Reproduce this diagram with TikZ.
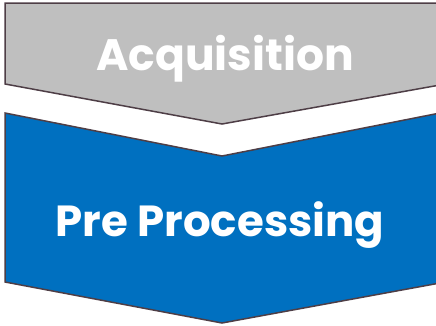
\documentclass[tikz,border=0pt]{standalone}
\usepackage{fontspec}
\setsansfont[Ligatures=NoCommon]{Poppins}
\definecolor{rim}{HTML}{4E3E46}
\definecolor{stepgray}{HTML}{BFBFBF}
\definecolor{stepblue}{HTML}{0070C0}

\begin{document}
\begin{tikzpicture}[x=1pt, y=-1pt]
	\tikzset{chevron/.style={draw=rim, line width=1.5pt, line join=miter},
		steplabel/.style={text=white, font=\sffamily\bfseries, anchor=base, inner sep=0pt}}
	\useasboundingbox (0, 0) rectangle (436, 325);

	\fill[stepgray, chevron] (5, 3) -- (440, 3) -- (440, 85) -- (222, 124) -- (5, 84) -- cycle;
	\fill[stepblue, chevron] (5, 113) -- (222, 156) -- (440, 113) -- (440, 283) -- (222, 323) -- (5, 282) -- cycle;

	\node[steplabel, font=\sffamily\bfseries\fontsize{44}{44}\selectfont] (acq) at (225, 70) {Acquisition};
	\node[steplabel, font=\sffamily\bfseries\fontsize{43.5}{44}\selectfont] (pre) at (220, 236) {Pre Processing};
\end{tikzpicture}
\end{document}
